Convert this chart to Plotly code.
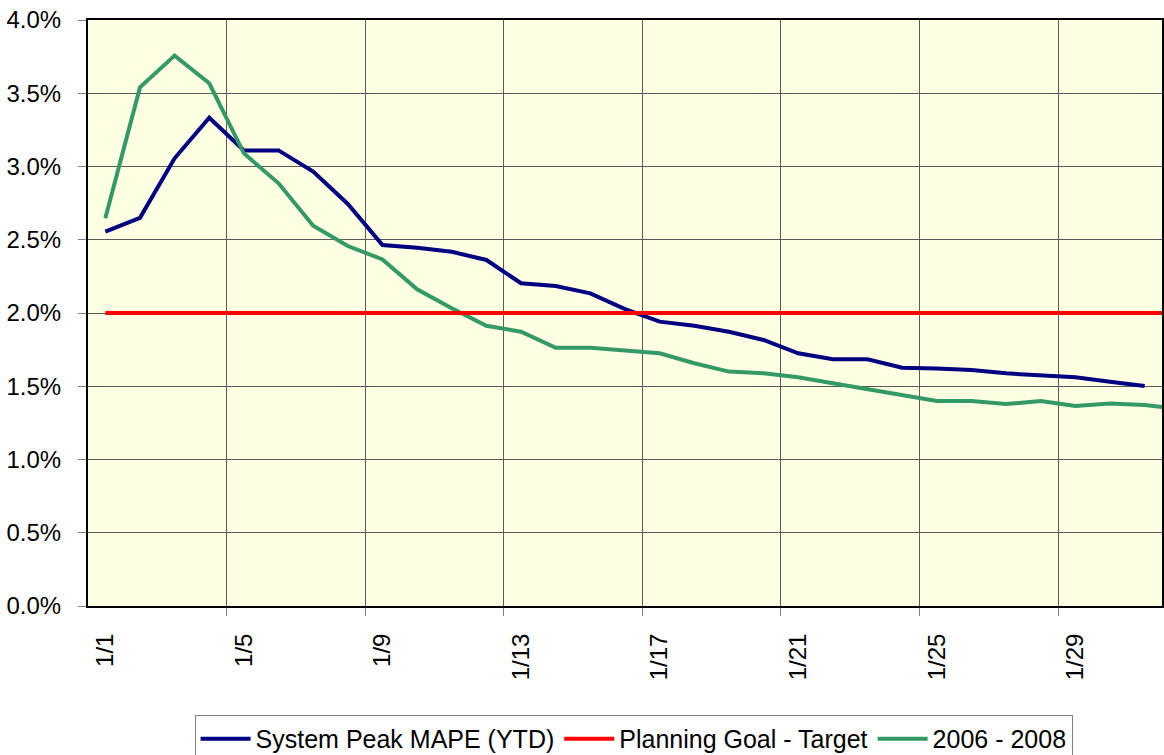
import plotly.graph_objects as go

# Day of January for each observation (the last green/red point runs past the axis end)
days = list(range(1, 33))

# System peak MAPE, year to date (%)
system_peak_mape = [2.555, 2.65, 3.056, 3.333, 3.11, 3.11, 2.965, 2.744, 2.464, 2.446,
                    2.418, 2.362, 2.203, 2.184, 2.134, 2.027, 1.941, 1.913, 1.872, 1.816,
                    1.725, 1.684, 1.684, 1.627, 1.622, 1.611, 1.588, 1.572, 1.561, 1.531,
                    1.502]

# Planning goal target (%)
planning_goal = [2.0] * 32

# 2006 - 2008 average (%)
hist_2006_2008 = [2.646, 3.54, 3.757, 3.568, 3.09, 2.885, 2.596, 2.457, 2.366, 2.162,
                  2.032, 1.913, 1.872, 1.763, 1.763, 1.747, 1.725, 1.657, 1.60, 1.588,
                  1.561, 1.52, 1.479, 1.44, 1.399, 1.399, 1.379, 1.399, 1.365, 1.383,
                  1.372, 1.345]

tick_days = [1, 5, 9, 13, 17, 21, 25, 29]
tick_labels = ["1/1", "1/5", "1/9", "1/13", "1/17", "1/21", "1/25", "1/29"]
grid_days = [4.5, 8.5, 12.5, 16.5, 20.5, 24.5, 28.5]

FONT = "Liberation Sans, Arial, sans-serif"

fig = go.Figure()
fig.add_trace(go.Scatter(
    x=days[:len(system_peak_mape)], y=system_peak_mape, mode="lines",
    name="System Peak MAPE (YTD)", line=dict(color="#000080", width=4),
    legendrank=1))
fig.add_trace(go.Scatter(
    x=days[:len(hist_2006_2008)], y=hist_2006_2008, mode="lines",
    name="2006 - 2008", line=dict(color="#339966", width=4),
    legendrank=3))
fig.add_trace(go.Scatter(
    x=days[:len(planning_goal)], y=planning_goal, mode="lines",
    name="Planning Goal - Target", line=dict(color="#FF0000", width=4),
    legendrank=2))

fig.update_layout(
    width=1164, height=755,
    margin=dict(l=88, r=2, t=20, b=149, autoexpand=False),
    paper_bgcolor="white",
    plot_bgcolor="#FFFFE3",
    font=dict(family=FONT, size=24, color="black"),
    showlegend=True,
    legend=dict(
        orientation="h", x=0.508, xanchor="center", y=-0.186, yanchor="top",
        bordercolor="#808080", borderwidth=1, bgcolor="white",
        font=dict(family=FONT, size=25, color="black"),
        itemwidth=50, traceorder="normal",
    ),
)

fig.update_xaxes(
    range=[0.5, 31.5],
    tickmode="array", tickvals=tick_days, ticktext=tick_labels,
    tickangle=-90, ticks="outside", ticklen=8, tickcolor="rgba(0,0,0,0)",
    ticklabelstandoff=8,
    showgrid=False, zeroline=False,
    showline=True, linecolor="black", linewidth=2, mirror=True,
    minor=dict(tickmode="array", tickvals=grid_days, showgrid=True,
               gridcolor="#5A5A5A", gridwidth=1,
               ticks="outside", ticklen=8, tickcolor="#808080", tickwidth=1),
)
fig.update_yaxes(
    range=[0, 4.0], dtick=0.5, tick0=0,
    tickformat=".1f", ticksuffix="%",
    ticks="outside", ticklen=8, tickcolor="#808080",
    ticklabelstandoff=12,
    showgrid=True, gridcolor="#5A5A5A", gridwidth=1, zeroline=False,
    showline=True, linecolor="black", linewidth=2, mirror=True,
)

fig.write_html("out.html")
